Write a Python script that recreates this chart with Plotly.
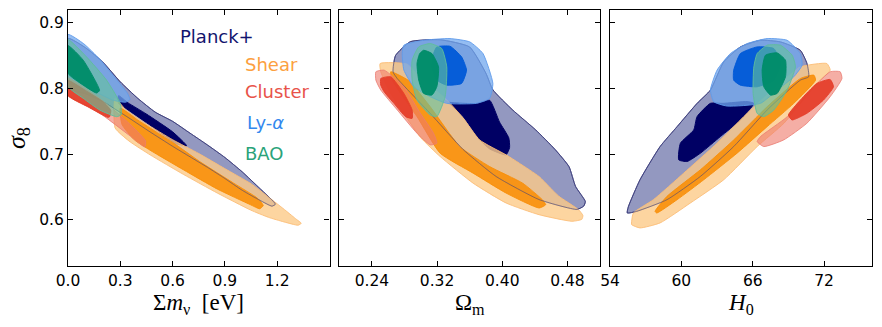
import plotly.graph_objects as go

W, H = 882, 327

# ---------------- tick labels ----------------
mnu_ticks = [0.0, 0.3, 0.6, 0.9, 1.2]
mnu_ticktext = ["0.0", "0.3", "0.6", "0.9", "1.2"]
om_ticks = [0.24, 0.32, 0.40, 0.48]
om_ticktext = ["0.24", "0.32", "0.40", "0.48"]
h0_ticks = [54, 60, 66, 72]
h0_ticktext = ["54", "60", "66", "72"]
s8_ticks = [0.6, 0.7, 0.8, 0.9]
s8_ticktext = ["0.6", "0.7", "0.8", "0.9"]

legend_names = ["Planck+", "Shear", "Cluster", "Ly-<i>α</i>", "BAO"]

# ---------------- panel 1: sum m_nu vs sigma8 ----------------
planck95_mnu_x = [0.0, 0.1, 0.2, 0.3, 0.4, 0.5, 0.6, 0.7, 0.8, 0.9, 1.0, 1.1, 1.16, 1.19,
                  1.17, 1.1, 1.0, 0.9, 0.8, 0.7, 0.6, 0.47, 0.35, 0.2, 0.1, 0.0]
planck95_mnu_y = [0.876, 0.862, 0.840, 0.810, 0.785, 0.764, 0.750, 0.732, 0.714, 0.695, 0.673, 0.648, 0.633, 0.624,
                  0.621, 0.630, 0.645, 0.663, 0.680, 0.696, 0.712, 0.734, 0.755, 0.780, 0.792, 0.800]
planck68_mnu_x = [0.29, 0.345, 0.45, 0.60, 0.68, 0.62, 0.45, 0.33, 0.29]
planck68_mnu_y = [0.789, 0.778, 0.761, 0.734, 0.713, 0.716, 0.748, 0.770, 0.777]
shear95_mnu_x = [0.27, 0.33, 0.45, 0.60, 0.75, 0.90, 1.05, 1.15, 1.25, 1.31, 1.338,
                 1.32, 1.239, 1.15, 1.048, 0.856, 0.664, 0.471, 0.35, 0.27]
shear95_mnu_y = [0.785, 0.768, 0.746, 0.722, 0.701, 0.678, 0.655, 0.635, 0.614, 0.601, 0.595,
                 0.592, 0.597, 0.604, 0.615, 0.641, 0.669, 0.699, 0.720, 0.740]
shear68_mnu_x = [0.30, 0.40, 0.47, 0.60, 0.76, 0.95, 1.087, 1.12, 1.10, 1.048, 0.856, 0.664, 0.471, 0.38, 0.31]
shear68_mnu_y = [0.770, 0.752, 0.740, 0.718, 0.688, 0.656, 0.633, 0.622, 0.617, 0.623, 0.647, 0.676, 0.706, 0.722, 0.745]
cluster95_mnu_x = [0.0, 0.1, 0.2, 0.287, 0.37, 0.445, 0.44, 0.35, 0.2, 0.1, 0.0]
cluster95_mnu_y = [0.815, 0.800, 0.781, 0.762, 0.742, 0.720, 0.711, 0.729, 0.759, 0.775, 0.790]
cluster68_mnu_x = [0.0, 0.1, 0.2, 0.245, 0.239, 0.229, 0.114, 0.0]
cluster68_mnu_y = [0.812, 0.797, 0.780, 0.767, 0.757, 0.756, 0.772, 0.789]
lya95_mnu_x = [0.0, 0.09, 0.18, 0.28, 0.34, 0.355, 0.33, 0.26, 0.18, 0.09, 0.0]
lya95_mnu_y = [0.882, 0.868, 0.845, 0.813, 0.793, 0.783, 0.779, 0.782, 0.792, 0.806, 0.820]
bao95_mnu_x = [0.0, 0.106, 0.22, 0.30, 0.305, 0.279, 0.183, 0.087, 0.0]
bao95_mnu_y = [0.874, 0.848, 0.813, 0.777, 0.760, 0.757, 0.767, 0.785, 0.803]
bao68_mnu_x = [0.0, 0.087, 0.181, 0.164, 0.087, 0.0]
bao68_mnu_y = [0.865, 0.843, 0.797, 0.793, 0.805, 0.823]

# ---------------- panel 2: Omega_m vs sigma8 ----------------
planck95_om_x = [0.266, 0.269, 0.287, 0.324, 0.360, 0.380, 0.3885, 0.413, 0.441, 0.465, 0.482, 0.490, 0.502, 0.500,
                 0.4917, 0.4452, 0.3926, 0.3521, 0.3116, 0.2712]
planck95_om_y = [0.825, 0.850, 0.871, 0.874, 0.863, 0.823, 0.798, 0.767, 0.737, 0.707, 0.681, 0.651, 0.628, 0.621,
                 0.616, 0.631, 0.666, 0.707, 0.762, 0.815]
planck68_om_x = [0.3298, 0.3683, 0.3845, 0.3966, 0.408, 0.409, 0.4047, 0.3845, 0.3723, 0.352, 0.330]
planck68_om_y = [0.780, 0.777, 0.782, 0.749, 0.725, 0.710, 0.699, 0.708, 0.722, 0.757, 0.782]
shear95_om_x = [0.2501, 0.2833, 0.300, 0.330, 0.352, 0.3723, 0.4047, 0.4209, 0.4452, 0.4573, 0.4695, 0.4937, 0.499,
                0.4978, 0.4856, 0.4452, 0.4047, 0.3642, 0.3238, 0.300, 0.280, 0.262, 0.2509]
shear95_om_y = [0.8379, 0.8369, 0.815, 0.785, 0.755, 0.7216, 0.699, 0.6863, 0.666, 0.651, 0.636, 0.6156, 0.607,
                0.601, 0.598, 0.608, 0.6258, 0.656, 0.6964, 0.725, 0.760, 0.795, 0.8253]
shear68_om_x = [0.2631, 0.285, 0.3116, 0.348, 0.3845, 0.425, 0.4492, 0.4533, 0.4452, 0.4047, 0.3642, 0.3238,
                0.2954, 0.2752, 0.265]
shear68_om_y = [0.8253, 0.812, 0.7722, 0.7115, 0.6812, 0.656, 0.6308, 0.6232, 0.6182, 0.6409, 0.6712, 0.7015,
                0.7571, 0.7924, 0.8126]
cluster95_om_x = [0.2449, 0.255, 0.2793, 0.2995, 0.3157, 0.3197, 0.3116, 0.2954, 0.2712, 0.2509, 0.2449]
cluster95_om_y = [0.8253, 0.8278, 0.8025, 0.7621, 0.7318, 0.7167, 0.7141, 0.7318, 0.7672, 0.7975, 0.8126]
cluster68_om_x = [0.2509, 0.2631, 0.2793, 0.2894, 0.2894, 0.2813, 0.2671, 0.255, 0.2509]
cluster68_om_y = [0.8151, 0.8177, 0.7924, 0.7672, 0.7545, 0.7571, 0.7773, 0.7949, 0.805]
lya95_om_x = [0.2793, 0.3035, 0.3359, 0.3602, 0.3764, 0.3885, 0.3845, 0.3683, 0.3319, 0.3116, 0.2914, 0.2793, 0.2772]
lya95_om_y = [0.8657, 0.8732, 0.8758, 0.8707, 0.853, 0.8076, 0.7848, 0.7773, 0.7773, 0.7874, 0.8025, 0.8278, 0.853]
lya68_om_x = [0.3197, 0.3359, 0.3501, 0.3562, 0.3501, 0.3319, 0.3197, 0.3137, 0.3157]
lya68_om_y = [0.8631, 0.8641, 0.848, 0.8278, 0.8076, 0.805, 0.8126, 0.8328, 0.853]
bao95_om_x = [0.3116, 0.3258, 0.3319, 0.3299, 0.3197, 0.3116, 0.2954, 0.2894, 0.2894, 0.2975]
bao95_om_y = [0.8682, 0.8606, 0.8328, 0.7874, 0.7571, 0.7596, 0.7823, 0.8126, 0.8429, 0.8631]
bao68_om_x = [0.3035, 0.3137, 0.3218, 0.3197, 0.3137, 0.3035, 0.2975, 0.2954, 0.2987]
bao68_om_y = [0.858, 0.853, 0.8328, 0.8025, 0.7899, 0.7924, 0.8126, 0.8379, 0.853]

# ---------------- panel 3: H0 vs sigma8 ----------------
planck95_h0_x = [55.54, 56.52, 58.21, 59.64, 61.32, 62.44, 63.56, 64.97, 66.65, 68.33, 70.0, 70.56, 70.70,
                 70.0, 67.21, 64.40, 61.60, 58.79, 56.24, 55.45]
planck95_h0_y = [0.620, 0.6611, 0.7116, 0.7419, 0.7773, 0.7975, 0.8404, 0.8631, 0.8732, 0.8707, 0.858, 0.8379, 0.8177,
                 0.8126, 0.7672, 0.7116, 0.6662, 0.6308, 0.6131, 0.6106]
planck68_h0_x = [59.78, 59.92, 61.04, 61.32, 62.44, 63.5, 65.53, 66.09, 64.97, 63.28, 61.60, 60.48]
planck68_h0_y = [0.6914, 0.7167, 0.7369, 0.7571, 0.7773, 0.7773, 0.7800, 0.7773, 0.752, 0.7268, 0.7015, 0.6889]
shear95_h0_x = [55.82, 55.96, 57.65, 60.20, 63.0, 65.81, 68.62, 70.0, 72.23, 72.51, 71.39, 68.62, 66.37, 63.56,
                60.76, 58.21, 56.52, 55.82]
shear95_h0_y = [0.598, 0.6106, 0.6308, 0.6712, 0.7167, 0.7672, 0.8126, 0.8328, 0.8379, 0.8278, 0.8076, 0.747, 0.7116,
                0.6611, 0.6258, 0.5955, 0.5879, 0.5929]
shear68_h0_x = [57.79, 58.79, 61.60, 64.40, 67.21, 70.01, 71.14, 71.28, 69.45, 67.21, 64.68, 61.88, 59.64, 57.93]
shear68_h0_y = [0.6131, 0.6359, 0.6763, 0.7217, 0.7722, 0.8151, 0.8202, 0.8126, 0.7773, 0.7419, 0.7015, 0.6611,
                0.6308, 0.6106]
cluster95_h0_x = [66.37, 66.65, 68.9, 71.14, 72.51, 73.35, 73.5, 72.51, 70.55, 68.6, 66.93]
cluster95_h0_y = [0.7192, 0.7268, 0.757, 0.8025, 0.8253, 0.8253, 0.8151, 0.7874, 0.747, 0.7217, 0.7116]
cluster68_h0_x = [69.0, 70.0, 71.39, 72.51, 72.79, 71.95, 70.55, 69.3]
cluster68_h0_y = [0.7596, 0.7823, 0.8076, 0.8136, 0.8025, 0.7823, 0.7621, 0.752]
lya95_h0_x = [62.44, 63.0, 64.12, 65.53, 67.21, 68.89, 70.0, 70.15, 69.45, 68.05, 66.65, 63.84, 62.72]
lya95_h0_y = [0.7975, 0.8278, 0.853, 0.8682, 0.8758, 0.8732, 0.853, 0.8354, 0.8177, 0.7975, 0.7773, 0.7732, 0.7798]
lya68_h0_x = [64.40, 64.96, 66.37, 67.77, 68.33, 67.77, 66.37, 64.96, 64.40]
lya68_h0_y = [0.8278, 0.853, 0.8631, 0.8606, 0.8379, 0.8126, 0.8025, 0.805, 0.8126]
bao95_h0_x = [66.37, 67.21, 68.33, 69.31, 69.59, 68.89, 67.77, 66.93, 66.37, 66.03, 66.09]
bao95_h0_y = [0.853, 0.8657, 0.8657, 0.8505, 0.8328, 0.7975, 0.7672, 0.7571, 0.7621, 0.7924, 0.8328]
bao68_h0_x = [67.07, 68.05, 68.75, 68.75, 68.05, 67.49, 66.93, 66.79]
bao68_h0_y = [0.8505, 0.854, 0.8429, 0.8177, 0.7924, 0.7899, 0.8025, 0.8278]

# ---------------- styles ----------------
STY = {
    "planck95": dict(fill="rgb(147,152,192)", line="rgba(45,48,120,0.9)"),
    "planck68": dict(fill="rgb(0,0,100)", line="rgba(0,0,100,1)"),
    "shear95": dict(fill="rgba(253,202,136,0.80)", line="rgba(252,190,120,0.9)"),
    "shear68": dict(fill="rgba(248,143,9,0.90)", line="rgba(248,143,9,0.9)"),
    "cluster95": dict(fill="rgba(238,120,105,0.60)", line="rgba(235,125,115,0.8)"),
    "cluster68": dict(fill="rgba(228,60,40,0.92)", line="rgba(228,60,40,0.9)"),
    "lya95": dict(fill="rgba(112,167,237,0.75)", line="rgba(95,155,235,0.9)"),
    "lya68": dict(fill="rgba(0,90,215,0.95)", line="rgba(0,90,215,0.95)"),
    "bao95": dict(fill="rgba(100,195,155,0.60)", line="rgba(95,190,155,0.9)"),
    "bao68": dict(fill="rgba(0,140,105,0.97)", line="rgba(0,140,105,0.97)"),
}

fig = go.Figure()


def closed(a):
    return list(a) + [a[0]]


def blob(xs, ys, key, xa, ya):
    s = STY[key]
    fig.add_trace(go.Scatter(x=closed(xs), y=closed(ys), mode="lines", fill="toself",
                             fillcolor=s["fill"], line=dict(color=s["line"], width=1, shape="spline", smoothing=0.5),
                             xaxis=xa, yaxis=ya, hoverinfo="skip", showlegend=False))


def outline(xs, ys, xa, ya):
    fig.add_trace(go.Scatter(x=closed(xs), y=closed(ys), mode="lines",
                             line=dict(color="rgba(70,70,125,0.6)", width=1, shape="spline", smoothing=0.5),
                             xaxis=xa, yaxis=ya, hoverinfo="skip", showlegend=False))


panels = [
    ("x", "y", [
        (planck95_mnu_x, planck95_mnu_y, "planck95"), (planck68_mnu_x, planck68_mnu_y, "planck68"),
        (shear95_mnu_x, shear95_mnu_y, "shear95"), (shear68_mnu_x, shear68_mnu_y, "shear68"),
        "outline",
        (cluster95_mnu_x, cluster95_mnu_y, "cluster95"), (cluster68_mnu_x, cluster68_mnu_y, "cluster68"),
        (lya95_mnu_x, lya95_mnu_y, "lya95"),
        (bao95_mnu_x, bao95_mnu_y, "bao95"), (bao68_mnu_x, bao68_mnu_y, "bao68"),
    ], (planck95_mnu_x, planck95_mnu_y)),
    ("x2", "y2", [
        (planck95_om_x, planck95_om_y, "planck95"), (planck68_om_x, planck68_om_y, "planck68"),
        (shear95_om_x, shear95_om_y, "shear95"), (shear68_om_x, shear68_om_y, "shear68"),
        "outline",
        (cluster95_om_x, cluster95_om_y, "cluster95"), (cluster68_om_x, cluster68_om_y, "cluster68"),
        (lya95_om_x, lya95_om_y, "lya95"), (lya68_om_x, lya68_om_y, "lya68"),
        (bao95_om_x, bao95_om_y, "bao95"), (bao68_om_x, bao68_om_y, "bao68"),
    ], (planck95_om_x, planck95_om_y)),
    ("x3", "y3", [
        (planck95_h0_x, planck95_h0_y, "planck95"), (planck68_h0_x, planck68_h0_y, "planck68"),
        (shear95_h0_x, shear95_h0_y, "shear95"), (shear68_h0_x, shear68_h0_y, "shear68"),
        "outline",
        (cluster95_h0_x, cluster95_h0_y, "cluster95"), (cluster68_h0_x, cluster68_h0_y, "cluster68"),
        (lya95_h0_x, lya95_h0_y, "lya95"), (lya68_h0_x, lya68_h0_y, "lya68"),
        (bao95_h0_x, bao95_h0_y, "bao95"), (bao68_h0_x, bao68_h0_y, "bao68"),
    ], (planck95_h0_x, planck95_h0_y)),
]

for xa, ya, items, pl in panels:
    for it in items:
        if it == "outline":
            outline(pl[0], pl[1], xa, ya)
        else:
            blob(it[0], it[1], it[2], xa, ya)

TICKFONT = dict(family="DejaVu Sans", size=15.5, color="black")


def px_x(p):
    return p / W


def px_y(p):
    return 1 - p / H


ydom = [px_y(266), px_y(9.5)]
xdoms = [[px_x(68), px_x(329.5)], [px_x(339.3), px_x(600)], [px_x(610), px_x(871.7)]]

common_axis = dict(showline=True, linecolor="black", linewidth=1.2, mirror="ticks", ticks="inside",
                   ticklen=5, tickwidth=1, tickcolor="black", showgrid=False, zeroline=False,
                   tickfont=TICKFONT, automargin=False)

layout = dict(
    width=W, height=H, margin=dict(l=0, r=0, t=0, b=0, autoexpand=False),
    paper_bgcolor="white", plot_bgcolor="white", showlegend=False,
    xaxis=dict(domain=xdoms[0], range=[0, 1.5], tickvals=mnu_ticks, ticktext=mnu_ticktext, anchor="y", **common_axis),
    xaxis2=dict(domain=xdoms[1], range=[0.2, 0.52], tickvals=om_ticks, ticktext=om_ticktext, anchor="y2", **common_axis),
    xaxis3=dict(domain=xdoms[2], range=[54, 76], tickvals=h0_ticks, ticktext=h0_ticktext, anchor="y3", **common_axis),
    yaxis=dict(domain=ydom, range=[0.53, 0.92], tickvals=s8_ticks, ticktext=s8_ticktext, anchor="x", **common_axis),
    yaxis2=dict(domain=ydom, range=[0.53, 0.92], tickvals=s8_ticks, ticktext=s8_ticktext, showticklabels=False,
                anchor="x2", **common_axis),
    yaxis3=dict(domain=ydom, range=[0.53, 0.92], tickvals=s8_ticks, ticktext=s8_ticktext, showticklabels=False,
                anchor="x3", **common_axis),
)
fig.update_layout(**layout)

SERIF = "Liberation Serif"
titles = [
    ("Σ<i>m</i><sub>ν</sub>  [eV]", (68 + 329.5) / 2),
    ("Ω<sub>m</sub>", (339.3 + 600) / 2),
    ("<i>H</i><sub>0</sub>", (610 + 871.7) / 2),
]
for txt, cx in titles:
    fig.add_annotation(text=txt, x=px_x(cx), y=px_y(304), xref="paper", yref="paper", showarrow=False,
                       xanchor="center", yanchor="middle", font=dict(family=SERIF, size=23, color="black"))
fig.add_annotation(text="<i>σ</i><sub>8</sub>", x=px_x(18), y=px_y(138), xref="paper", yref="paper",
                   showarrow=False, textangle=-90, xanchor="center", yanchor="middle",
                   font=dict(family=SERIF, size=26, color="black"))

legend_colors = ["rgb(18,20,110)", "rgb(252,160,64)", "rgb(232,83,74)", "rgb(51,136,238)", "rgb(42,163,122)"]
legend_px = [(178, 36), (243, 64.5), (243, 92), (245, 122.5), (243, 153.5)]
for name, col, (lx, ly) in zip(legend_names, legend_colors, legend_px):
    fig.add_annotation(text=name, x=px_x(lx), y=px_y(ly), xref="paper", yref="paper", showarrow=False,
                       xanchor="left", yanchor="middle", font=dict(family="DejaVu Sans", size=18, color=col))

fig.write_html("out.html", config={"displayModeBar": False},
               post_script="document.body.style.margin='0px';document.body.style.padding='0px';")
